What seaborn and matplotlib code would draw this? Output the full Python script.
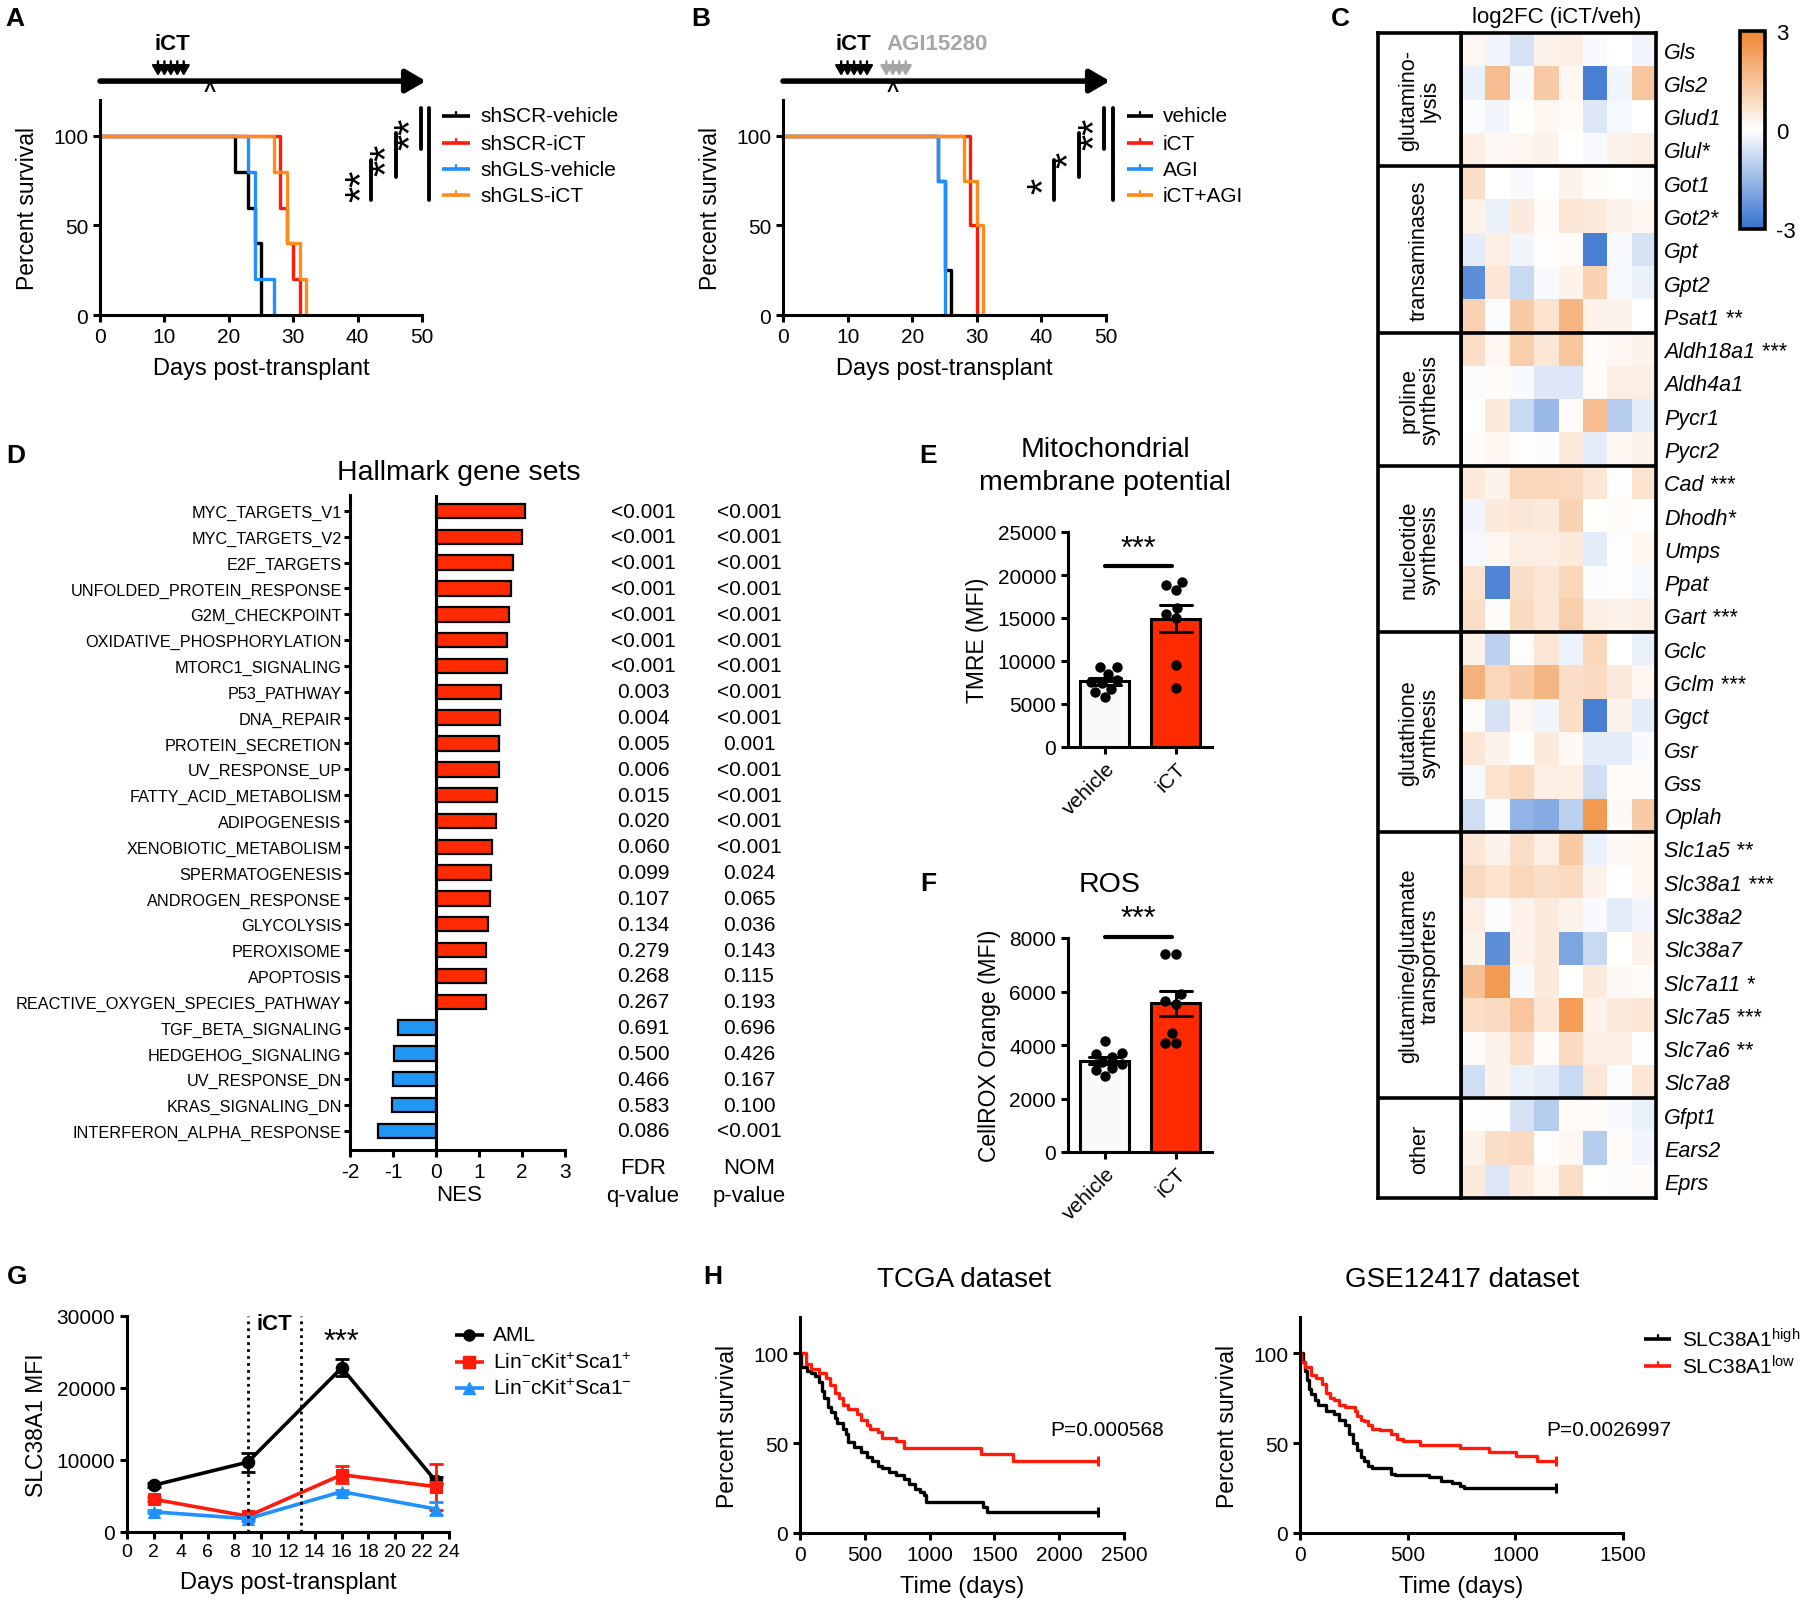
import numpy as np
import pandas as pd
import matplotlib
matplotlib.use('Agg')
import matplotlib.pyplot as plt
import seaborn as sns
from matplotlib.colors import LinearSegmentedColormap
from matplotlib.lines import Line2D
from matplotlib.transforms import blended_transform_factory as blend

# ---------------- data ----------------
# A: Kaplan-Meier, shRNA x treatment (time, percent survival)
A_SCR_VEH_T = [0, 21, 23, 24, 25]
A_SCR_VEH_S = [100, 80, 60, 40, 0]
A_SCR_ICT_T = [0, 28, 29, 30, 31]
A_SCR_ICT_S = [100, 60, 40, 20, 0]
A_GLS_VEH_T = [0, 23, 24, 27]
A_GLS_VEH_S = [100, 80, 20, 0]
A_GLS_ICT_T = [0, 27, 29, 31, 32]
A_GLS_ICT_S = [100, 80, 40, 20, 0]
A_LABELS = ['shSCR-vehicle', 'shSCR-iCT', 'shGLS-vehicle', 'shGLS-iCT']

# B: Kaplan-Meier, AGI15280
B_VEH_T = [0, 24, 25, 26]
B_VEH_S = [100, 75, 25, 0]
B_ICT_T = [0, 29, 30]
B_ICT_S = [100, 50, 0]
B_AGI_T = [0, 24, 25]
B_AGI_S = [100, 75, 0]
B_COMBO_T = [0, 28, 30, 31]
B_COMBO_S = [100, 75, 50, 0]
B_LABELS = ['vehicle', 'iCT', 'AGI', 'iCT+AGI']

ICT_DAYS = [9, 10, 11, 12, 13]
AGI_DAYS = [16, 17, 18, 19]
ANALYSIS_DAY = 17

# C: log2FC heatmap, one block per pathway
GROUPS = ['glutamino-\nlysis', 'transaminases', 'proline\nsynthesis', 'nucleotide\nsynthesis',
          'glutathione\nsynthesis', 'glutamine/glutamate\ntransporters', 'other']
GENES_GLUTAMINOLYSIS = ['Gls', 'Gls2', 'Glud1', 'Glul*']
FC_GLUTAMINOLYSIS = [
    [0.2, -0.2, -0.6, 0.3, 0.4, -0.1, 0.0, -0.2],
    [-0.3, 1.6, -0.1, 1.3, 0.2, -2.7, -0.2, 1.4],
    [-0.05, -0.2, 0.0, 0.2, 0.1, -0.5, -0.15, 0.0],
    [0.4, 0.15, 0.2, 0.3, 0.0, -0.1, 0.3, 0.4],
]
GENES_TRANSAMINASES = ['Got1', 'Got2*', 'Gpt', 'Gpt2', 'Psat1 **']
FC_TRANSAMINASES = [
    [0.8, 0.0, -0.1, 0.0, 0.3, 0.1, 0.0, -0.05],
    [0.3, -0.3, 0.5, 0.1, 0.6, 0.5, 0.3, 0.2],
    [-0.4, 0.4, -0.2, 0.05, 0.1, -2.7, -0.1, -0.6],
    [-2.4, 0.6, -0.8, -0.1, 0.3, 1.1, -0.15, -0.3],
    [1.1, -0.05, 1.3, 0.7, 1.8, 0.3, 0.3, 0.0],
]
GENES_PROLINE = ['Aldh18a1 ***', 'Aldh4a1', 'Pycr1', 'Pycr2']
FC_PROLINE = [
    [0.8, 0.2, 1.2, 0.6, 1.4, 0.1, 0.2, 0.3],
    [-0.05, 0.1, -0.1, -0.5, -0.5, 0.1, 0.4, 0.4],
    [0.0, 0.5, -0.8, -1.5, 0.1, 1.6, -1.1, -0.4],
    [0.1, 0.2, 0.05, -0.05, 0.5, -0.4, 0.2, 0.3],
]
GENES_NUCLEOTIDE = ['Cad ***', 'Dhodh*', 'Umps', 'Ppat', 'Gart ***']
FC_NUCLEOTIDE = [
    [0.5, 0.3, 1.0, 1.0, 0.9, 0.6, 0.05, 0.7],
    [-0.2, 0.5, 0.6, 0.5, 1.1, 0.0, 0.1, 0.05],
    [-0.15, 0.2, 0.4, 0.4, 0.5, -0.4, 0.05, 0.2],
    [0.7, -2.6, 0.8, 0.6, 1.0, -0.05, 0.05, -0.15],
    [0.8, 0.1, 0.9, 0.6, 1.2, 0.4, 0.3, 0.4],
]
GENES_GLUTATHIONE = ['Gclc', 'Gclm ***', 'Ggct', 'Gsr', 'Gss', 'Oplah']
FC_GLUTATHIONE = [
    [0.3, -1.0, 0.05, 0.6, -0.25, 1.0, 0.0, -0.3],
    [1.9, 1.0, 1.3, 1.8, 0.8, 0.9, 0.5, 0.2],
    [0.1, -0.6, 0.2, -0.2, 0.8, -2.7, 0.3, -0.4],
    [0.6, 0.3, 0.0, 0.5, 0.15, -0.4, -0.4, -0.1],
    [-0.15, 0.7, 0.9, 0.4, 0.4, -0.7, 0.1, 0.1],
    [-0.7, -0.05, -1.6, -1.8, -1.0, 2.5, 0.15, 1.3],
]
GENES_TRANSPORTERS = ['Slc1a5 **', 'Slc38a1 ***', 'Slc38a2', 'Slc38a7', 'Slc7a11 *',
                      'Slc7a5 ***', 'Slc7a6 **', 'Slc7a8']
FC_TRANSPORTERS = [
    [0.6, 0.3, 0.8, 0.4, 1.3, -0.3, 0.15, 0.2],
    [0.9, 0.7, 1.0, 0.8, 0.9, 0.3, 0.0, 0.2],
    [0.4, -0.05, 0.3, 0.5, 0.3, -0.1, -0.4, -0.2],
    [0.3, -2.4, 0.3, 0.5, -1.9, -0.8, 0.0, 0.3],
    [1.5, 2.5, -0.1, 0.5, 0.0, 0.5, 0.15, 0.1],
    [0.8, 0.9, 1.4, 0.6, 2.4, 0.3, 0.5, 0.6],
    [0.1, 0.3, 0.8, 0.1, 0.9, 0.4, 0.4, 0.05],
    [-0.7, 0.3, -0.3, -0.4, -0.8, 0.6, -0.05, 0.6],
]
GENES_OTHER = ['Gfpt1', 'Ears2', 'Eprs']
FC_OTHER = [
    [0.0, 0.05, -0.6, -1.1, 0.1, 0.1, -0.1, -0.3],
    [0.3, 0.8, 0.9, 0.05, 0.2, -1.1, 0.1, -0.2],
    [0.5, -0.5, 0.5, 0.2, 0.8, 0.0, -0.05, 0.1],
]

# D: GSEA hallmark
GSEA_SETS = ['MYC_TARGETS_V1', 'MYC_TARGETS_V2', 'E2F_TARGETS', 'UNFOLDED_PROTEIN_RESPONSE',
             'G2M_CHECKPOINT', 'OXIDATIVE_PHOSPHORYLATION', 'MTORC1_SIGNALING', 'P53_PATHWAY',
             'DNA_REPAIR', 'PROTEIN_SECRETION', 'UV_RESPONSE_UP', 'FATTY_ACID_METABOLISM',
             'ADIPOGENESIS', 'XENOBIOTIC_METABOLISM', 'SPERMATOGENESIS', 'ANDROGEN_RESPONSE',
             'GLYCOLYSIS', 'PEROXISOME', 'APOPTOSIS', 'REACTIVE_OXYGEN_SPECIES_PATHWAY',
             'TGF_BETA_SIGNALING', 'HEDGEHOG_SIGNALING', 'UV_RESPONSE_DN', 'KRAS_SIGNALING_DN',
             'INTERFERON_ALPHA_RESPONSE']
GSEA_NES = [2.08, 2.01, 1.78, 1.74, 1.69, 1.65, 1.64, 1.52, 1.49, 1.47, 1.47, 1.41, 1.39,
            1.31, 1.27, 1.26, 1.22, 1.16, 1.16, 1.16, -0.88, -0.97, -1.01, -1.03, -1.35]
GSEA_FDR = ['<0.001', '<0.001', '<0.001', '<0.001', '<0.001', '<0.001', '<0.001', '0.003',
            '0.004', '0.005', '0.006', '0.015', '0.020', '0.060', '0.099', '0.107', '0.134',
            '0.279', '0.268', '0.267', '0.691', '0.500', '0.466', '0.583', '0.086']
GSEA_NOM = ['<0.001', '<0.001', '<0.001', '<0.001', '<0.001', '<0.001', '<0.001', '<0.001',
            '<0.001', '0.001', '<0.001', '<0.001', '<0.001', '<0.001', '0.024', '0.065', '0.036',
            '0.143', '0.115', '0.193', '0.696', '0.426', '0.167', '0.100', '<0.001']

# E / F: per-mouse MFI
E_VEH = [9300, 9300, 8500, 7800, 7600, 7500, 6800, 6400, 5800]
E_ICT = [19200, 18800, 18200, 16200, 15500, 15000, 9500, 6900]
F_VEH = [4150, 3700, 3650, 3550, 3350, 3300, 3150, 3050, 2850]
F_ICT = [7400, 7400, 5900, 5650, 5550, 4450, 4080, 4080]

# G: SLC38A1 MFI time course (mean, SEM)
G_DAYS = [2, 9, 16, 23]
G_AML = [6500, 9700, 22800, 7100]
G_AML_SEM = [300, 1300, 1200, 500]
G_LSK_POS = [4550, 2200, 7950, 6300]
G_LSK_POS_SEM = [300, 300, 1200, 3200]
G_LSK_NEG = [2800, 1850, 5600, 3200]
G_LSK_NEG_SEM = [200, 300, 300, 900]
G_LABELS = ['AML', r'Lin$^{-}$cKit$^{+}$Sca1$^{+}$', r'Lin$^{-}$cKit$^{+}$Sca1$^{-}$']

# H: patient survival
TCGA_HIGH_T = [0, 5, 57, 86, 114, 143, 171, 186, 214, 243, 271, 286, 329, 357, 371, 414, 471,
               514, 557, 600, 629, 686, 743, 800, 843, 886, 929, 957, 971, 1414, 1443, 2300]
TCGA_HIGH_S = [100, 92, 90, 89, 87, 84, 79, 75, 70, 67, 64, 61, 58, 55, 50.5, 48, 45, 42, 40,
               37.5, 36, 34, 32, 30, 27, 24.5, 23, 21, 17, 14.5, 11.7, 11.7]
TCGA_LOW_T = [0, 43, 86, 143, 200, 229, 271, 300, 329, 371, 443, 471, 514, 543, 600, 629,
              743, 800, 1400, 1643, 2300]
TCGA_LOW_S = [100, 94, 91, 89, 86, 82, 78, 75, 71, 69, 66, 63, 60, 58, 56, 53, 51, 47, 44,
              40, 40]
GSE_HIGH_T = [0, 14, 23, 32, 41, 50, 68, 85, 121, 157, 183, 210, 228, 245, 263, 281, 299, 317,
              334, 423, 441, 601, 655, 708, 744, 761, 1188]
GSE_HIGH_S = [100, 95, 90, 85, 80, 77, 74, 71, 68, 66, 63, 60, 55, 50, 46, 42, 40, 37, 36, 33,
              32, 31, 29, 28, 26, 25, 25]
GSE_LOW_T = [0, 5, 23, 50, 76, 103, 121, 139, 157, 183, 210, 254, 263, 281, 299, 317, 334, 370,
             423, 450, 477, 557, 744, 877, 1002, 1099, 1188]
GSE_LOW_S = [100, 95, 92, 88, 86, 83, 78, 75, 74, 71, 70, 68, 65, 63, 62, 60, 58, 57, 55, 52,
             51, 49, 47, 45, 43, 40, 40]

BLACK, RED, BLUE, ORANGE = '#000000', '#FF1A0A', '#1E90FF', '#FF8C1A'
BAR_RED, BAR_BLUE = '#FF2A00', '#2196F3'

# ---------------- style ----------------
W, H, DPI = 1800, 1606, 100
sns.set_theme(style='ticks', rc={
    'axes.edgecolor': 'black', 'axes.labelcolor': 'black', 'text.color': 'black',
    'xtick.color': 'black', 'ytick.color': 'black', 'axes.linewidth': 2.2,
    'xtick.major.width': 2.2, 'ytick.major.width': 2.2,
    'xtick.major.size': 5, 'ytick.major.size': 5, 'axes.unicode_minus': False,
})
plt.rcParams['font.family'] = ['Liberation Sans', 'DejaVu Sans']
plt.rcParams['mathtext.fontset'] = 'custom'
plt.rcParams['mathtext.rm'] = 'Liberation Sans'
plt.rcParams['mathtext.it'] = 'Liberation Sans:italic'
plt.rcParams['mathtext.bf'] = 'Liberation Sans:bold'

fig = plt.figure(figsize=(W / DPI, H / DPI), dpi=DPI)


def axes_px(l, t, r, b):
    return fig.add_axes([l / W, 1 - b / H, (r - l) / W, (b - t) / H])


def fx(x):
    return x / W


def fy(y):
    return 1 - y / H


def fig_line(x0, y0, x1, y1, **kw):
    fig.add_artist(Line2D([fx(x0), fx(x1)], [fy(y0), fy(y1)], transform=fig.transFigure, **kw))


def fig_text(x, y, s, **kw):
    kw.setdefault('ha', 'center')
    kw.setdefault('va', 'center')
    fig.text(fx(x), fy(y), s, **kw)


def legend_rows(x0, x1, xt, ys, labels, colors, markers=None, fs=15, tick=False):
    for i, (y, lab, c) in enumerate(zip(ys, labels, colors)):
        fig_line(x0, y, x1, y, color=c, lw=2.6, solid_capstyle='butt')
        if markers:
            fig.add_artist(Line2D([fx((x0 + x1) / 2)], [fy(y)], marker=markers[i], color=c,
                                  ms=8, transform=fig.transFigure))
        elif tick:
            xm = (x0 + x1) / 2
            fig_line(xm, y - 4, xm, y, color=c, lw=1.6)
        fig_text(xt, y, lab, ha='left', fontsize=fs)


def panel_letter(x, y, s):
    fig_text(x, y, s, fontsize=19, fontweight='bold')


def survival_panel(ax, curves, colors):
    for (t, s), c in zip(curves, colors):
        sns.lineplot(x=t, y=s, drawstyle='steps-post', estimator=None, sort=False,
                     color=c, lw=2.4, ax=ax, legend=False, clip_on=False)
    ax.set_xlim(0, 50)
    ax.set_ylim(0, 120)
    ax.set_xticks(range(0, 51, 10))
    ax.set_yticks([0, 50, 100])
    ax.set_xlabel('Days post-transplant', fontsize=17, labelpad=8)
    ax.set_ylabel('Percent survival', fontsize=16.5, labelpad=10)
    ax.tick_params(labelsize=15)
    sns.despine(ax=ax)


def timeline(ax, extra=None):
    tr = blend(ax.transData, ax.transAxes)
    ax.annotate('', xy=(50.6, 1.088), xytext=(0, 1.088), xycoords=tr, textcoords=tr,
                annotation_clip=False,
                arrowprops=dict(arrowstyle='-|>,head_length=0.6,head_width=0.35', lw=4,
                                color='black', mutation_scale=20, shrinkA=0, shrinkB=0))
    for days, col in ((ICT_DAYS, 'black'), (extra or [], '#A6A6A6')):
        for d in days:
            ax.annotate('', xy=(d, 1.112), xytext=(d, 1.18), xycoords=tr, textcoords=tr,
                        annotation_clip=False,
                        arrowprops=dict(arrowstyle='-|>,head_length=0.55,head_width=0.32',
                                        lw=1.7, color=col, mutation_scale=11,
                                        shrinkA=0, shrinkB=0))
    ax.text(ANALYSIS_DAY, 1.045, '^', transform=tr, ha='center', va='center', fontsize=15,
            fontweight='bold')
    return tr


def sig_bars(bars, stars, fs=30):
    for x, y0, y1 in bars:
        fig_line(x, y0, x, y1, color='black', lw=2.8)
    for x, y, s in stars:
        fig_text(x, y, s, rotation=90, fontsize=fs)


# ---------------- A ----------------
ax_a = axes_px(100, 101, 422, 316)
survival_panel(ax_a, [(A_SCR_VEH_T, A_SCR_VEH_S), (A_SCR_ICT_T, A_SCR_ICT_S),
                      (A_GLS_VEH_T, A_GLS_VEH_S), (A_GLS_ICT_T, A_GLS_ICT_S)],
               [BLACK, RED, BLUE, ORANGE])
tr_a = timeline(ax_a)
ax_a.text(11.2, 1.265, 'iCT', transform=tr_a, ha='center', va='center', fontsize=16,
          fontweight='bold')
legend_rows(442, 470, 480, [117, 144, 170, 196], A_LABELS, [BLACK, RED, BLUE, ORANGE],
            tick=True)
sig_bars([(371, 161, 201), (395.5, 134, 178), (420.6, 109, 150), (429, 109, 201)],
         [(363, 186, '**'), (388, 160, '**'), (412, 134, '**')])
panel_letter(15, 19, 'A')

# ---------------- B ----------------
ax_b = axes_px(783, 101, 1106, 316)
survival_panel(ax_b, [(B_VEH_T, B_VEH_S), (B_ICT_T, B_ICT_S),
                      (B_AGI_T, B_AGI_S), (B_COMBO_T, B_COMBO_S)],
               [BLACK, RED, BLUE, ORANGE])
tr_b = timeline(ax_b, AGI_DAYS)
ax_b.text(10.9, 1.265, 'iCT', transform=tr_b, ha='center', va='center', fontsize=16,
          fontweight='bold')
ax_b.text(16.0, 1.265, 'AGI15280', transform=tr_b, ha='left', va='center', fontsize=16,
          fontweight='bold', color='#A6A6A6')
legend_rows(1127, 1153, 1163, [117, 144, 170, 196], B_LABELS, [BLACK, RED, BLUE, ORANGE],
            tick=True)
sig_bars([(1054, 161, 201), (1079, 134, 178), (1104, 109, 150), (1113, 109, 201)],
         [(1045, 186, '*'), (1070, 160, '*'), (1096, 134, '**')])
panel_letter(701, 19, 'B')

# ---------------- C ----------------
fc_blocks = [FC_GLUTAMINOLYSIS, FC_TRANSAMINASES, FC_PROLINE, FC_NUCLEOTIDE,
             FC_GLUTATHIONE, FC_TRANSPORTERS, FC_OTHER]
gene_blocks = [GENES_GLUTAMINOLYSIS, GENES_TRANSAMINASES, GENES_PROLINE, GENES_NUCLEOTIDE,
               GENES_GLUTATHIONE, GENES_TRANSPORTERS, GENES_OTHER]
fc = np.vstack([np.array(b) for b in fc_blocks])
genes = sum(gene_blocks, [])
sizes = [len(b) for b in gene_blocks]
bounds = np.cumsum(sizes)

cmap = LinearSegmentedColormap.from_list('bo', ['#3572CF', '#FFFFFF', '#F08530'])
ax_hm = axes_px(1461, 34, 1656, 1199)
ax_cb = axes_px(1740, 32, 1765, 230)
sns.heatmap(fc, cmap=cmap, vmin=-3, vmax=3, ax=ax_hm, cbar_ax=ax_cb,
            xticklabels=False, yticklabels=genes)
ax_hm.yaxis.set_ticks_position('right')
ax_hm.set_yticks(np.arange(len(genes)) + 0.5)
ax_hm.set_yticklabels(genes, rotation=0, fontstyle='italic', fontsize=15.5)
ax_hm.tick_params(axis='y', length=0, pad=6, labelright=True, labelleft=False)
ax_hm.tick_params(axis='x', length=0)
for s in ax_hm.spines.values():
    s.set_visible(True)
    s.set_linewidth(2.6)
for b in bounds[:-1]:
    ax_hm.axhline(b, color='black', lw=2.6)

ax_grp = axes_px(1378, 34, 1461, 1199)
ax_grp.set_xlim(0, 1)
ax_grp.set_ylim(len(genes), 0)
ax_grp.set_xticks([])
ax_grp.set_yticks([])
for s in ax_grp.spines.values():
    s.set_visible(True)
    s.set_linewidth(2.6)
starts = np.concatenate([[0], bounds[:-1]])
for g, s0, s1 in zip(GROUPS, starts, bounds):
    if s1 < len(genes):
        ax_grp.axhline(s1, color='black', lw=2.6)
    ax_grp.text(0.5, (s0 + s1) / 2, g, rotation=90, ha='center', va='center',
                fontsize=15.6, linespacing=1.05)

cb = ax_hm.collections[0].colorbar
cb.outline.set_linewidth(2.6)
cb.set_ticks([-3, 0, 3])
cb.set_ticklabels(['-3', '0', '3'])
cb.ax.tick_params(length=0, labelsize=16, pad=8)
fig_text(1557, 17, 'log2FC (iCT/veh)', fontsize=16)
panel_letter(1340, 19, 'C')

# ---------------- D ----------------
ax_d = axes_px(350, 496, 565, 1151)
df_d = pd.DataFrame({'set': GSEA_SETS, 'nes': GSEA_NES})
df_d['dir'] = np.where(df_d['nes'] > 0, 'up', 'down')
sns.barplot(data=df_d, x='nes', y='set', hue='dir', palette={'up': BAR_RED, 'down': BAR_BLUE},
            orient='h', dodge=False, width=0.56, edgecolor='black', linewidth=1.6,
            saturation=1, legend=False, ax=ax_d)
ax_d.set_xlim(-2, 3)
ax_d.set_ylim(len(GSEA_SETS) - 1 + 0.74, -0.62)
ax_d.axvline(0, color='black', lw=2.2)
ax_d.set_xticks(range(-2, 4))
ax_d.set_xlabel('')
ax_d.set_ylabel('')
ax_d.tick_params(axis='y', labelsize=11.7, length=4, pad=2)
ax_d.tick_params(axis='x', labelsize=15)
sns.despine(ax=ax_d)
tr_d = blend(fig.transFigure, ax_d.transData)
for i, (q, p) in enumerate(zip(GSEA_FDR, GSEA_NOM)):
    ax_d.text(fx(643), i, q, transform=tr_d, ha='center', va='center', fontsize=15)
    ax_d.text(fx(749), i, p, transform=tr_d, ha='center', va='center', fontsize=15)
fig_text(459, 1196, 'NES', fontsize=16)
fig_text(643, 1168, 'FDR', fontsize=16)
fig_text(643, 1197, 'q-value', fontsize=16)
fig_text(749, 1168, 'NOM', fontsize=16)
fig_text(749, 1197, 'p-value', fontsize=16)
fig_text(459, 473, 'Hallmark gene sets', fontsize=20.5)
panel_letter(16, 456, 'D')


# ---------------- E / F ----------------
def bar_dots(ax, veh, ict, ymax, step, ylabel, sig_y):
    df = pd.DataFrame({'group': ['vehicle'] * len(veh) + ['iCT'] * len(ict),
                       'val': veh + ict})
    sns.barplot(data=df, x='group', y='val', hue='group',
                palette={'vehicle': '#FAFAFA', 'iCT': BAR_RED}, errorbar='se', capsize=0.45,
                err_kws={'color': 'black', 'linewidth': 2.2}, edgecolor='black',
                linewidth=2.2, width=0.69, saturation=1, legend=False, ax=ax)
    sns.swarmplot(data=df, x='group', y='val', color='black', size=7.5, ax=ax)
    ax.set_xlim(-0.52, 1.51)
    ax.set_ylim(0, ymax)
    ax.set_yticks(np.arange(0, ymax + 1, step))
    ax.set_xticks([0, 1])
    ax.set_xticklabels(['vehicle', 'iCT'], rotation=45, ha='right', rotation_mode='anchor')
    ax.tick_params(labelsize=15)
    ax.set_xlabel('')
    ax.set_ylabel(ylabel, fontsize=16.5, labelpad=6)
    sns.despine(ax=ax)
    ax.plot([0, 0.95], [sig_y, sig_y], color='black', lw=3, clip_on=False)
    ax.text(0.47, sig_y * 1.015, '***', ha='center', va='bottom', fontsize=22)


ax_e = axes_px(1068, 533, 1212, 748)
bar_dots(ax_e, E_VEH, E_ICT, 25000, 5000, 'TMRE (MFI)', 21000)
fig_text(1105, 450, 'Mitochondrial', fontsize=20.5)
fig_text(1105, 483, 'membrane potential', fontsize=20.5)
panel_letter(928, 456, 'E')

ax_f = axes_px(1068, 939, 1212, 1153)
bar_dots(ax_f, F_VEH, F_ICT, 8000, 2000, 'CellROX Orange (MFI)', 8030)
fig_text(1110, 885, 'ROS', fontsize=20.5)
panel_letter(928, 884, 'F')

# ---------------- G ----------------
ax_g = axes_px(127, 1317, 449, 1533)
g_series = [(G_AML, G_AML_SEM, BLACK, 'o'), (G_LSK_POS, G_LSK_POS_SEM, RED, 's'),
            (G_LSK_NEG, G_LSK_NEG_SEM, BLUE, '^')]
for vals, sem, c, m in g_series:
    sns.lineplot(x=G_DAYS, y=vals, color=c, marker=m, markersize=9, markeredgecolor=c,
                 lw=2.6, ax=ax_g, legend=False)
    ax_g.errorbar(G_DAYS, vals, yerr=sem, fmt='none', ecolor=c, elinewidth=2, capsize=5,
                  capthick=2)
for d in (ICT_DAYS[0], ICT_DAYS[-1]):
    ax_g.axvline(d, color='black', lw=2, ls=(0, (1, 1.5)))
ax_g.set_xlim(0, 24)
ax_g.set_ylim(0, 30000)
ax_g.set_xticks(range(0, 25, 2))
ax_g.set_yticks(range(0, 30001, 10000))
ax_g.tick_params(axis='x', labelsize=14, pad=3)
ax_g.tick_params(axis='y', labelsize=15)
ax_g.set_xlabel('Days post-transplant', fontsize=17, labelpad=8)
ax_g.set_ylabel('SLC38A1 MFI', fontsize=16.5, labelpad=6)
sns.despine(ax=ax_g)
ax_g.text(11, 29000, 'iCT', ha='center', va='center', fontsize=16, fontweight='bold')
ax_g.text(16, 24300, '***', ha='center', va='bottom', fontsize=22)
legend_rows(455, 484, 493, [1336, 1363, 1389], G_LABELS, [BLACK, RED, BLUE],
            markers=['o', 's', '^'])
panel_letter(17, 1277, 'G')


# ---------------- H ----------------
def km_panel(ax, curves, xmax, step):
    for (t, s), c in zip(curves, [BLACK, RED]):
        sns.lineplot(x=t, y=s, drawstyle='steps-post', estimator=None, sort=False,
                     color=c, lw=2.4, ax=ax, legend=False)
        # censor tick at the end of follow-up
        sns.scatterplot(x=t[-1:], y=s[-1:], marker='|', s=60, linewidth=2.2, color=c,
                        ax=ax, legend=False)
    ax.set_xlim(0, xmax)
    ax.set_ylim(0, 120)
    ax.set_xticks(range(0, xmax + 1, step))
    ax.set_yticks([0, 50, 100])
    ax.tick_params(labelsize=15)
    ax.set_xlabel('Time (days)', fontsize=17, labelpad=8)
    ax.set_ylabel('Percent survival', fontsize=16.5, labelpad=10)
    sns.despine(ax=ax)


ax_h1 = axes_px(800, 1318, 1124, 1534)
km_panel(ax_h1, [(TCGA_HIGH_T, TCGA_HIGH_S), (TCGA_LOW_T, TCGA_LOW_S)], 2500, 500)
fig_text(964, 1280, 'TCGA dataset', fontsize=20)
fig_text(1050, 1431, 'P=0.000568', ha='left', fontsize=15)

ax_h2 = axes_px(1300, 1318, 1623, 1534)
km_panel(ax_h2, [(GSE_HIGH_T, GSE_HIGH_S), (GSE_LOW_T, GSE_LOW_S)], 1500, 500)
fig_text(1462, 1280, 'GSE12417 dataset', fontsize=20)
fig_text(1546, 1431, 'P=0.0026997', ha='left', fontsize=15)
legend_rows(1644, 1671, 1682, [1340, 1367],
            [r'SLC38A1$^{\mathrm{high}}$', r'SLC38A1$^{\mathrm{low}}$'], [BLACK, RED],
            tick=True)
panel_letter(713, 1277, 'H')

fig.savefig('out.png', dpi=DPI, facecolor='white')
